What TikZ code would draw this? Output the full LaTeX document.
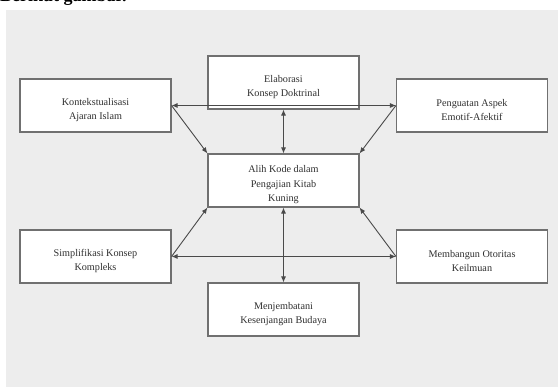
\documentclass[tikz,border=0pt]{standalone}
\usepackage{fontspec}
\setmainfont{Liberation Serif}
\usetikzlibrary{arrows.meta}
\definecolor{bggray}{HTML}{EDEDED}
\definecolor{boxgray}{HTML}{707070}
\definecolor{linegray}{HTML}{4A4A4A}
\definecolor{txtgray}{HTML}{303030}
\begin{document}
\begin{tikzpicture}[x=1pt,y=-1pt,
  box/.style={draw=boxgray, line width=1.1pt, fill=white, minimum width=151pt, minimum height=53pt, inner sep=0pt},
  lbl/.style={text=txtgray, align=center, inner sep=0pt, font=\fontsize{10.2}{14.5}\selectfont},
  conn/.style={draw=linegray, line width=0.9pt},
  tipend/.style={-{Latex[length=6pt,width=5pt]}},
  tipboth/.style={{Latex[length=6pt,width=5pt]}-{Latex[length=6pt,width=5pt]}}]
\useasboundingbox (0,0) rectangle (558,387);
\fill[bggray] (6,10) rectangle (558,387);
\begin{scope}
\clip (0,0) rectangle (558,387);
\node[anchor=base west, inner sep=0pt, font=\bfseries\fontsize{18}{20}\selectfont] (top) at (0,2) {Berikut gambar.};
\end{scope}
% boxes
\node[box] (K) at (95.5,105.5) {};
\node[box] (E) at (283.5,82.5) {};
\node[box] (P) at (472,105.5) {};
\node[box] (A) at (283.5,180.5) {};
\node[box] (S) at (95.5,256.5) {};
\node[box] (M) at (472,256.5) {};
\node[box] (J) at (283.5,309.5) {};
% labels
\node[lbl] (Kt) at ([yshift=-4.5pt]K.center) {Kontekstualisasi\\Ajaran Islam};
\node[lbl] (Et) at ([yshift=-4.5pt]E.center) {Elaborasi\\Konsep Doktrinal};
\node[lbl] (Pt) at ([yshift=-4.5pt]P.center) {Penguatan Aspek\\Emotif-Afektif};
\node[lbl] (At) at ([yshift=-4.5pt]A.center) {Alih Kode dalam\\Pengajian Kitab\\Kuning};
\node[lbl] (St) at ([yshift=-4.5pt]S.center) {Simplifikasi Konsep\\Kompleks};
\node[lbl] (Mt) at ([yshift=-4.5pt]M.center) {Membangun Otoritas\\Keilmuan};
\node[lbl] (Jt) at ([yshift=-4.5pt]J.center) {Menjembatani\\Kesenjangan Budaya};
% connectors
\draw[conn,tipboth] (K.east) -- (P.west);
\draw[conn,tipboth] (S.east) -- (M.west);
\draw[conn,tipboth] (E.south) -- (A.north);
\draw[conn,tipboth] (A.south) -- (J.north);
\draw[conn,tipend] (K.east) -- (A.north west);
\draw[conn,tipend] (P.west) -- (A.north east);
\draw[conn,tipend] (S.east) -- (A.south west);
\draw[conn,tipend] (M.west) -- (A.south east);
\end{tikzpicture}
\end{document}
